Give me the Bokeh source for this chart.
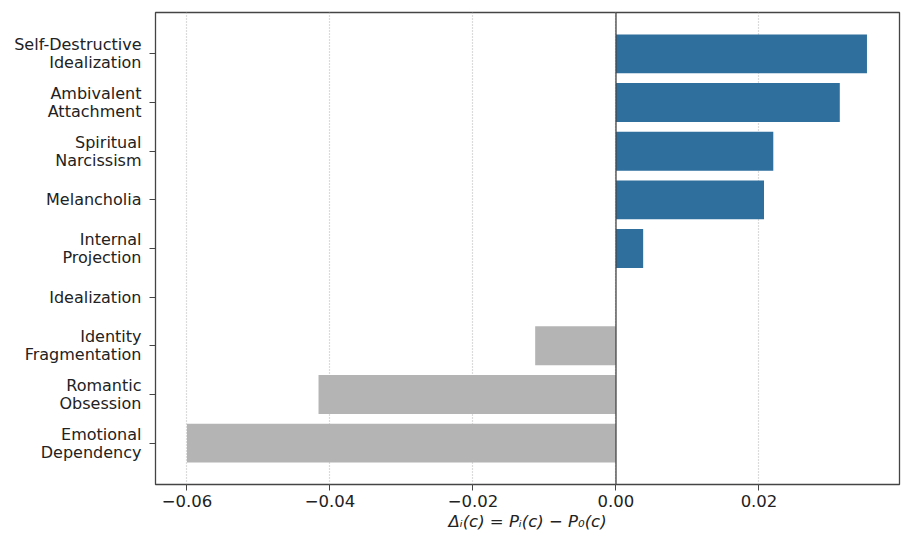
from bokeh.plotting import figure
from bokeh.models import ColumnDataSource, Span, FixedTicker, Range1d
from bokeh.embed import file_html
from bokeh.resources import INLINE

categories = ["Self-Destructive\nIdealization", "Ambivalent\nAttachment", "Spiritual\nNarcissism",
              "Melancholia", "Internal\nProjection", "Idealization", "Identity\nFragmentation",
              "Romantic\nObsession", "Emotional\nDependency"]
deltas = [0.0351, 0.0313, 0.0220, 0.0207, 0.0038, 0.0, -0.0113, -0.0416, -0.0600]
x_ticks = [-0.06, -0.04, -0.02, 0.00, 0.02]

n = len(categories)
ypos = [n - 1 - i for i in range(n)]
colors = ["#2e6f9e" if d > 0 else "#b4b4b4" for d in deltas]

src = ColumnDataSource(dict(y=ypos, right=deltas, color=colors))

p = figure(width=901, height=533, output_backend="svg", toolbar_location=None,
           x_range=Range1d(-0.0644, 0.03965), y_range=Range1d(-0.85, n - 1 + 0.85),
           min_border_left=155, min_border_right=2, min_border_top=12, min_border_bottom=10)

p.hbar(y="y", left=0, right="right", height=0.8, color="color", source=src, line_color=None)

p.add_layout(Span(location=0, dimension="height", line_color="#444444", line_width=1.3))

p.xaxis.ticker = FixedTicker(ticks=x_ticks)
p.xaxis.major_label_overrides = {t: ("\u2212%.2f" % abs(t) if t < 0 else "%.2f" % t) for t in x_ticks}
p.yaxis.ticker = FixedTicker(ticks=ypos)
p.yaxis.major_label_overrides = {y: c for y, c in zip(ypos, categories)}

for ax in (p.xaxis, p.yaxis):
    ax.minor_tick_line_color = None
    ax.major_tick_in = 0
    ax.major_tick_out = 6
    ax.major_tick_line_color = "#444444"
    ax.axis_line_color = None
    ax.major_label_text_font = "DejaVu Sans"
    ax.major_label_text_color = "#222222"

p.yaxis.major_label_text_font_size = "16px"
p.yaxis.major_label_text_line_height = 0.95
p.xaxis.major_label_text_font_size = "16.5px"
p.yaxis.major_label_text_align = "right"
p.yaxis.major_label_standoff = 8
p.xaxis.axis_label = "\u0394\u1d62(c) = P\u1d62(c) \u2212 P\u2080(c)"
p.xaxis.axis_label_text_font = "DejaVu Sans"
p.xaxis.axis_label_text_font_style = "italic"
p.xaxis.axis_label_text_font_size = "16.5px"
p.xaxis.axis_label_text_color = "#222222"
p.xaxis.axis_label_standoff = 2
p.xaxis.major_label_standoff = 4

p.ygrid.grid_line_color = None
p.xgrid.grid_line_color = "#b8b8b8"
p.xgrid.grid_line_dash = "1 2"
p.xgrid.grid_line_width = 1.2

p.outline_line_color = "#444444"
p.outline_line_width = 1.3
p.background_fill_color = "white"
p.border_fill_color = "white"

open("out.html", "w").write(file_html(p, INLINE))
